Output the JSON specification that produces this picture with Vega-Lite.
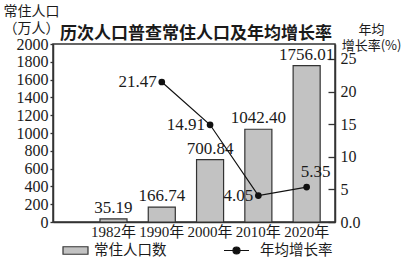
{
  "$schema": "https://vega.github.io/schema/vega-lite/v6.json",
  "width": 282,
  "height": 178,
  "autosize": "none",
  "padding": {"left": 53, "top": 44, "right": 73, "bottom": 41},
  "background": "white",
  "config": {
    "view": {"stroke": "#333", "strokeWidth": 1.5},
    "axis": {
      "grid": false,
      "domainColor": "#333",
      "domainWidth": 1.5,
      "tickColor": "#333",
      "tickWidth": 1.3,
      "labelColor": "#1a1a1a",
      "labelFont": "Liberation Serif, Noto Sans CJK SC",
      "labelFontSize": 16,
      "labelOverlap": false,
      "titleFont": "Noto Sans CJK SC",
      "titleColor": "#1a1a1a",
      "titleFontWeight": "normal"
    },
    "text": {"font": "Liberation Serif", "fontSize": 17, "color": "#1a1a1a"}
  },
  "title": {
    "text": "历次人口普查常住人口及年均增长率",
    "anchor": "start",
    "frame": "group",
    "dx": 7,
    "dy": 14,
    "offset": -42,
    "baseline": "bottom",
    "font": "Noto Sans CJK SC",
    "fontSize": 17,
    "fontWeight": "bold",
    "color": "#1a1a1a"
  },
  "data": {
    "values": [
      {"year": "1982年", "pop": 35.19, "rate": null},
      {"year": "1990年", "pop": 166.74, "rate": 21.47},
      {"year": "2000年", "pop": 700.84, "rate": 14.91},
      {"year": "2010年", "pop": 1042.40, "rate": 4.05},
      {"year": "2020年", "pop": 1756.01, "rate": 5.35}
    ]
  },
  "encoding": {
    "x": {
      "field": "year",
      "type": "ordinal",
      "sort": null,
      "scale": {"paddingInner": 0.44, "paddingOuter": 0.64, "align": 0.76},
      "axis": {"title": null, "ticks": false, "labelAngle": 0, "labelFontSize": 15, "labelPadding": 2, "labelOverlap": false}
    }
  },
  "layer": [
    {
      "encoding": {
        "y": {
          "field": "pop",
          "type": "quantitative",
          "scale": {"domain": [0, 2000], "nice": false},
          "axis": {
            "orient": "left",
            "values": [0, 200, 400, 600, 800, 1000, 1200, 1400, 1600, 1800, 2000],
            "format": "d",
            "labelOverlap": false,
            "labelSeparation": 0,
            "tickSize": 3,
            "labelPadding": 2,
            "title": ["常住人口", "（万人）"],
            "titleAngle": 0,
            "titleAlign": "left",
            "titleBaseline": "top",
            "titleX": -50,
            "titleY": -40,
            "titleFontSize": 14,
            "titleLineHeight": 17
          }
        }
      },
      "layer": [
        {
          "mark": {"type": "bar", "stroke": "#333", "strokeWidth": 1.2},
          "encoding": {
            "fill": {
              "datum": "常住人口数",
              "scale": {"range": ["#c2c2c2"]},
              "legend": {
                "orient": "none",
                "legendX": 9,
                "legendY": 193,
                "title": null,
                "symbolType": "M-1,-0.3H1V0.3H-1Z",
                "symbolSize": 625,
                "symbolStrokeColor": "#333",
                "symbolStrokeWidth": 1.2,
                "labelFont": "Noto Sans CJK SC",
                "labelFontSize": 14.5,
                "labelColor": "#1a1a1a",
                "labelOffset": 5
              }
            }
          }
        },
        {
          "mark": {"type": "text", "baseline": "bottom", "dy": -2},
          "encoding": {
            "text": {"field": "pop", "type": "quantitative", "format": ".2f"}
          }
        }
      ]
    },
    {
      "transform": [{"filter": "datum.rate != null"}],
      "encoding": {
        "y": {
          "field": "rate",
          "type": "quantitative",
          "scale": {"domain": [0, 27.3], "nice": false},
          "axis": {
            "orient": "right",
            "values": [0, 5, 10, 15, 20, 25],
            "labelExpr": "datum.value == 0 ? '0.0' : datum.label",
            "labelOverlap": false,
            "labelSeparation": 0,
            "tickSize": -7,
            "labelPadding": 12,
            "title": ["年均", "增长率(%)"],
            "titleAngle": 0,
            "titleAlign": "center",
            "titleBaseline": "top",
            "titleX": 36,
            "titleY": -21,
            "titleFontSize": 13,
            "titleLineHeight": 16
          }
        }
      },
      "layer": [
        {
          "mark": {"type": "line", "strokeWidth": 1.2},
          "encoding": {
            "stroke": {
              "datum": "年均增长率",
              "scale": {"range": ["#111"]},
              "legend": {
                "orient": "none",
                "legendX": 170,
                "legendY": 193,
                "title": null,
                "symbolType": "M-1,0H1M-0.28,0A0.28,0.28 0 1,1 0.28,0A0.28,0.28 0 1,1 -0.28,0Z",
                "symbolSize": 625,
                "labelFont": "Noto Sans CJK SC",
                "labelFontSize": 14.5,
                "labelColor": "#1a1a1a",
                "labelOffset": 10,
                "encode": {"symbols": {"update": {"fill": {"value": "#111"}, "stroke": {"value": "#111"}, "strokeWidth": {"value": 1.2}}}}
              }
            }
          }
        },
        {
          "mark": {"type": "point", "filled": true, "size": 45, "color": "#111", "opacity": 1}
        },
        {
          "transform": [{"filter": "datum.year != '2020年'"}],
          "mark": {"type": "text", "align": "right", "baseline": "middle", "dx": -5},
          "encoding": {
            "text": {"field": "rate", "type": "quantitative", "format": ".2f"}
          }
        },
        {
          "transform": [{"filter": "datum.year == '2020年'"}],
          "mark": {"type": "text", "align": "center", "baseline": "middle", "dx": 9, "dy": -15},
          "encoding": {
            "text": {"field": "rate", "type": "quantitative", "format": ".2f"}
          }
        }
      ]
    }
  ],
  "resolve": {"scale": {"y": "independent"}}
}
